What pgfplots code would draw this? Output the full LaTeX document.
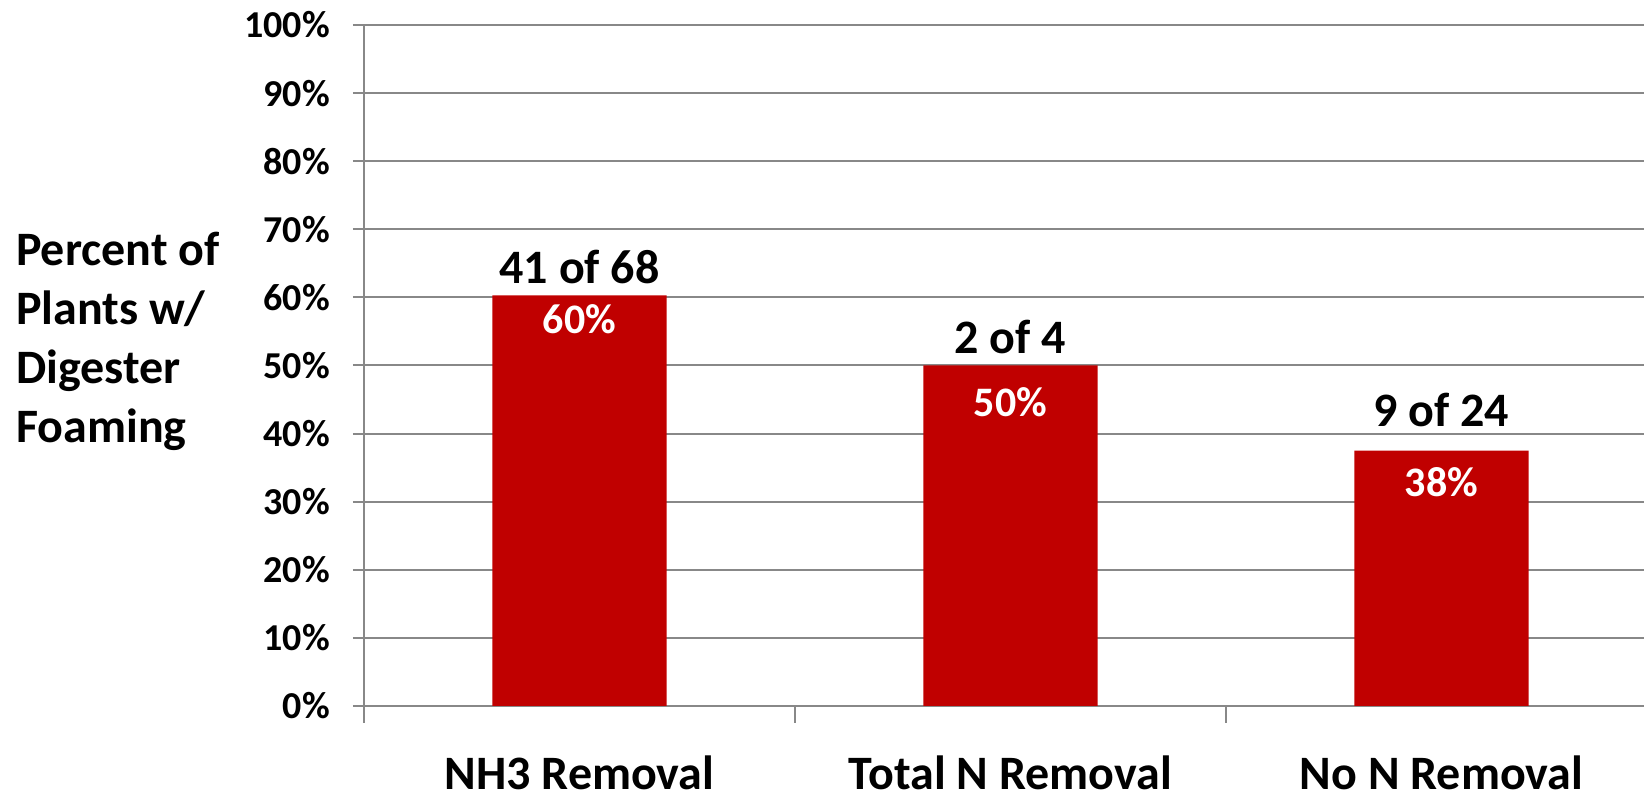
\documentclass[border=0pt]{standalone}
\usepackage{pgfplots}
\pgfplotsset{compat=1.18}
\usepackage{pgfplotstable}
\usepackage{fontspec}
\setmainfont{Carlito}
\definecolor{barred}{HTML}{C00000}
\definecolor{gridgray}{HTML}{888888}

% share of plants with digester foaming; dyo/dyi = label nudges in pt
\pgfplotstableread[col sep=comma]{
x,y,outer,inner,dyo,dyi
0,60.3,41 of 68,60\%,6,-4.5
1,50,2 of 4,50\%,5.75,-11
2,37.5,9 of 24,38\%,12,-8
}\bardata

\begin{document}
\begin{tikzpicture}[font=\bfseries]
\useasboundingbox (-182pt,-47.5pt) rectangle (640pt,353pt);
\begin{axis}[
  scale only axis, width=640pt, height=340.5pt,
  at={(0,0)}, anchor=south west,
  xmin=-0.5, xmax=2.47, ymin=0, ymax=100,
  axis x line*=bottom, axis y line*=left,
  axis line style={-, gridgray, line width=1pt},
  ymajorgrids, grid style={gridgray, line width=1pt},
  tick align=outside, major tick length=5.5pt,
  ytick={0,10,...,100},
  yticklabel={\pgfmathprintnumber{\tick}\%},
  /pgf/number format/assume math mode=true,
  yticklabel style={xshift=-8pt, font=\bfseries\fontsize{19}{22}\selectfont},
  xtick={-0.5,0.5,1.5,2.5},
  xticklabels={NH3 Removal,Total N Removal,No N Removal,},
  xticklabel style={xshift=107.75pt, anchor=north, inner sep=0pt, yshift=-19pt,
    font=\bfseries\fontsize{24}{28}\selectfont},
  xtick style={gridgray, line width=1pt, /pgfplots/major tick length=8.5pt},
  ytick style={gridgray, line width=1pt},
  ylabel={Percent of\\Plants w/\\Digester\\Foaming},
  ylabel style={rotate=-90, align=left, anchor=west, inner sep=0pt,
    at={(axis description cs:-0.272,0.535)},
    font=\bfseries\fontsize{24}{29.5}\selectfont},
]
\addplot[ybar, bar width=0.404, bar shift=0pt, fill=barred, draw=none,
  nodes near coords, point meta=explicit symbolic,
  visualization depends on={\thisrow{dyi} \as \dyi},
  every node near coord/.append style={anchor=north, inner sep=0pt, yshift=\dyi,
    text=white, font=\bfseries\fontsize{21}{24}\selectfont}]
  table[x=x, y=y, meta=inner]{\bardata};
\addplot[ybar, bar width=0.404, bar shift=0pt, fill=none, draw=none,
  nodes near coords, point meta=explicit symbolic,
  visualization depends on={\thisrow{dyo} \as \dyo},
  every node near coord/.append style={anchor=base, inner sep=0pt, yshift=\dyo,
    text=black, font=\bfseries\fontsize{24}{28}\selectfont}]
  table[x=x, y=y, meta=outer]{\bardata};
\end{axis}
\end{tikzpicture}
\end{document}
